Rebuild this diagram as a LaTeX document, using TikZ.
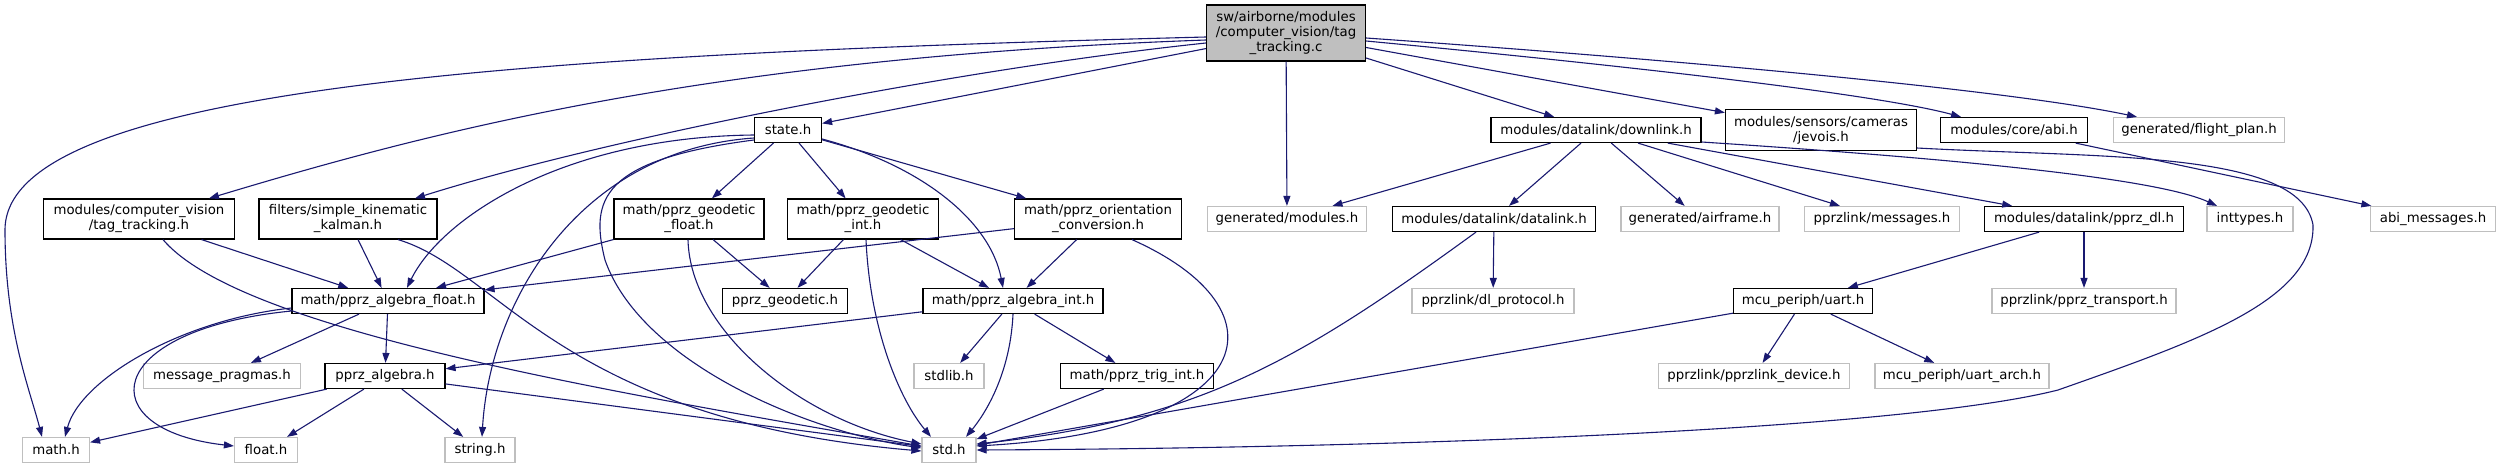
\documentclass[tikz,border=0pt]{standalone}
\usepackage{fontspec}
\setmainfont{DejaVu Sans}
\usepackage{tikz}
\usetikzlibrary{arrows.meta, calc}
\definecolor{edgeblue}{HTML}{191970}
\definecolor{boxgray}{HTML}{BFBFBF}

\begin{document}
\begin{tikzpicture}[x=1pt, y=-1pt,
  hdr/.style={draw=black, line width=1.2pt, fill=white, inner sep=0pt,
    minimum height=25pt, align=center, font={\fontsize{13.3}{15}\selectfont}},
  ext/.style={hdr, draw=boxgray},
  link/.style={draw=edgeblue, line width=1.1pt, -{Triangle[length=10pt,width=7pt]}}]

% Поле рисунка
\path[fill=white, use as bounding box] (0,0) rectangle (2502,469);

% Корневой файл
\node[hdr, fill=boxgray, minimum width=159pt, minimum height=56pt] (root) at (1286,33)
  {sw/airborne/modules\\/computer\_vision/tag\\\_tracking.c};

% Первый ряд
\node[hdr, minimum width=67pt]  (st)  at (788,130)  {state.h};
\node[hdr, minimum width=210pt] (dl)  at (1596,130) {modules/datalink/downlink.h};
\node[hdr, minimum width=191pt, minimum height=41pt] (jev) at (1821,130)
  {modules/sensors/cameras\\/jevois.h};
\node[hdr, minimum width=147pt] (abi) at (2014,130) {modules/core/abi.h};
\node[ext, minimum width=171pt] (fpl) at (2199,130) {generated/flight\_plan.h};

% Второй ряд
\node[hdr, minimum width=191pt, minimum height=40pt] (tagh) at (139,219)
  {modules/computer\_vision\\/tag\_tracking.h};
\node[hdr, minimum width=178pt, minimum height=40pt] (kalm) at (348,219)
  {filters/simple\_kinematic\\\_kalman.h};
\node[hdr, minimum width=150pt, minimum height=40pt] (geof) at (689,219)
  {math/pprz\_geodetic\\\_float.h};
\node[hdr, minimum width=151pt, minimum height=40pt] (geoi) at (863,219)
  {math/pprz\_geodetic\\\_int.h};
\node[hdr, minimum width=167pt, minimum height=40pt] (ori) at (1098,219)
  {math/pprz\_orientation\\\_conversion.h};
\node[ext, minimum width=159pt] (gmod) at (1287,219) {generated/modules.h};
\node[hdr, minimum width=203pt] (dlnk) at (1494,219) {modules/datalink/datalink.h};
\node[ext, minimum width=158pt] (gair) at (1700,219) {generated/airframe.h};
\node[ext, minimum width=155pt] (msgs) at (1882,219) {pprzlink/messages.h};
\node[hdr, minimum width=199pt] (pdl)  at (2084,219) {modules/datalink/pprz\_dl.h};
\node[ext, minimum width=86pt]  (intt) at (2250,219) {inttypes.h};
\node[ext, minimum width=125pt] (abim) at (2433,219) {abi\_messages.h};

% Третий ряд
\node[hdr, minimum width=192pt] (algf) at (388,301)  {math/pprz\_algebra\_float.h};
\node[hdr, minimum width=125pt] (pgeo) at (785,301)  {pprz\_geodetic.h};
\node[hdr, minimum width=180pt] (algi) at (1013,301) {math/pprz\_algebra\_int.h};
\node[ext, minimum width=162pt] (dlp)  at (1493,301) {pprzlink/dl\_protocol.h};
\node[hdr, minimum width=139pt] (uart) at (1803,301) {mcu\_periph/uart.h};
\node[ext, minimum width=184pt] (ptr)  at (2084,301) {pprzlink/pprz\_transport.h};

% Четвёртый ряд
\node[ext, minimum width=157pt] (msgp) at (222,376)  {message\_pragmas.h};
\node[hdr, minimum width=120pt] (palg) at (385,376)  {pprz\_algebra.h};
\node[ext, minimum width=70pt]  (stdl) at (949,376)  {stdlib.h};
\node[hdr, minimum width=153pt] (trig) at (1137,376) {math/pprz\_trig\_int.h};
\node[ext, minimum width=191pt] (pdev) at (1754,376) {pprzlink/pprzlink\_device.h};
\node[ext, minimum width=174pt] (uarch) at (1962,376) {mcu\_periph/uart\_arch.h};

% Нижний ряд
\node[ext, minimum width=67pt] (mathh) at (56,450)  {math.h};
\node[ext, minimum width=63pt] (flth)  at (266,450) {float.h};
\node[ext, minimum width=70pt] (strh)  at (480,450) {string.h};
\node[ext, minimum width=54pt] (std)   at (949,450) {std.h};

% Связи корневого файла
\draw[link] ($(root.west)+(0,4)$) .. controls (500,55) and (5,90) .. (5,230)
  .. controls (5,330) and (30,390) .. ($(mathh.north)+(-14,0)$);
\draw[link] ($(root.west)+(0,7)$) .. controls (700,58) and (420,135) .. ($(tagh.north)+(70,0)$);
\draw[link] ($(root.west)+(0,10)$) .. controls (950,70) and (600,140) .. ($(kalm.north)+(67,0)$);
\draw[link] (root) -- (st);
\draw[link] (root) -- (gmod);
\draw[link] (root) -- (dl);
\draw[link] (root) -- (jev);
\draw[link] ($(root.east)+(0,8)$) .. controls (1650,68) and (1880,95) .. ($(abi.north)+(-53,0)$);
\draw[link] ($(root.east)+(0,5)$) .. controls (1650,58) and (2000,88) .. ($(fpl.north)+(-62,0)$);

% Связи state.h
\draw[link] ($(st.west)+(0,5)$) .. controls (560,137) and (440,220) .. ($(algf.north)+(19,0)$);
\draw[link] ($(st.west)+(0,8)$) .. controls (580,150) and (490,300) .. ($(strh.north)+(2,0)$);
\draw[link] ($(st.west)+(0,10)$) .. controls (600,160) and (590,200) .. (605,260)
  .. controls (640,360) and (800,430) .. ($(std.west)+(0,-2)$);
\draw[link] (st) -- (geof);
\draw[link] (st) -- (geoi);
\draw[link] (st) -- (ori);
\draw[link] ($(st.east)+(0,9)$) .. controls (920,165) and (990,220) .. ($(algi.north)+(-10,0)$);

% Геодезия и ориентация
\draw[link] (geof) -- (algf);
\draw[link] (geof) -- (pgeo);
\draw[link] ($(geof.south)+(-1,0)$) .. controls (690,330) and (800,420) .. ($(std.west)+(0,-6)$);
\draw[link] (geoi) -- (pgeo);
\draw[link] (geoi) -- (algi);
\draw[link] ($(geoi.south)+(3,0)$) .. controls (870,330) and (900,400) .. ($(std.north)+(-18,0)$);
\draw[link] (ori) -- (algf);
\draw[link] (ori) -- (algi);
\draw[link] ($(ori.south)+(34,0)$) .. controls (1290,310) and (1260,430) .. ($(std.east)+(0,-4)$);

% Заголовки модуля и фильтра
\draw[link] (tagh) -- (algf);
\draw[link] ($(tagh.south)+(24,0)$) .. controls (240,330) and (600,390) .. ($(std.west)+(0,-4)$);
\draw[link] (kalm) -- (algf);
\draw[link] ($(kalm.south)+(50,0)$) .. controls (500,270) and (560,420) .. ($(std.west)+(0,1)$);

% Алгебра
\draw[link] (algf) -- (msgp);
\draw[link] (algf) -- (palg);
\draw[link] ($(algf.west)+(0,7)$) .. controls (180,320) and (80,380) .. ($(mathh.north)+(9,0)$);
\draw[link] ($(algf.west)+(0,10)$) .. controls (100,330) and (90,430) .. ($(flth.west)+(0,-4)$);
\draw[link] (palg) -- (mathh);
\draw[link] (palg) -- (flth);
\draw[link] (palg) -- (strh);
\draw[link] (palg) -- (std);
\draw[link] (algi) -- (palg);
\draw[link] (algi) -- (stdl);
\draw[link] (algi) -- (trig);
\draw[link] (algi.south) .. controls (1010,380) and (980,420) .. ($(std.north)+(17,0)$);
\draw[link] (trig) -- (std);

% Связь datalink
\draw[link] (dl) -- (gmod);
\draw[link] (dl) -- (dlnk);
\draw[link] (dl) -- (gair);
\draw[link] (dl) -- (msgs);
\draw[link] (dl) -- (pdl);
\draw[link] ($(dl.east)+(0,12)$) .. controls (1900,155) and (2150,175) .. ($(intt.north)+(-33,0)$);
\draw[link] (dlnk) -- (dlp);
\draw[link] ($(dlnk.south)+(-18,0)$) .. controls (1300,360) and (1200,420) .. ($(std.east)+(0,-6)$);
\draw[link] (pdl) -- (uart);
\draw[link] (pdl) -- (ptr);
\draw[link] (uart) -- (pdev);
\draw[link] (uart) -- (uarch);
\draw[link] (uart) -- (std);

% Камера и abi
\draw[link] ($(jev.east)+(0,18)$) .. controls (2100,158) and (2300,150) .. (2313,225)
  .. controls (2315,300) and (2200,340) .. (2058,390)
  .. controls (1900,430) and (1400,448) .. (std.east);
\draw[link] (abi) -- (abim);

\end{tikzpicture}
\end{document}
